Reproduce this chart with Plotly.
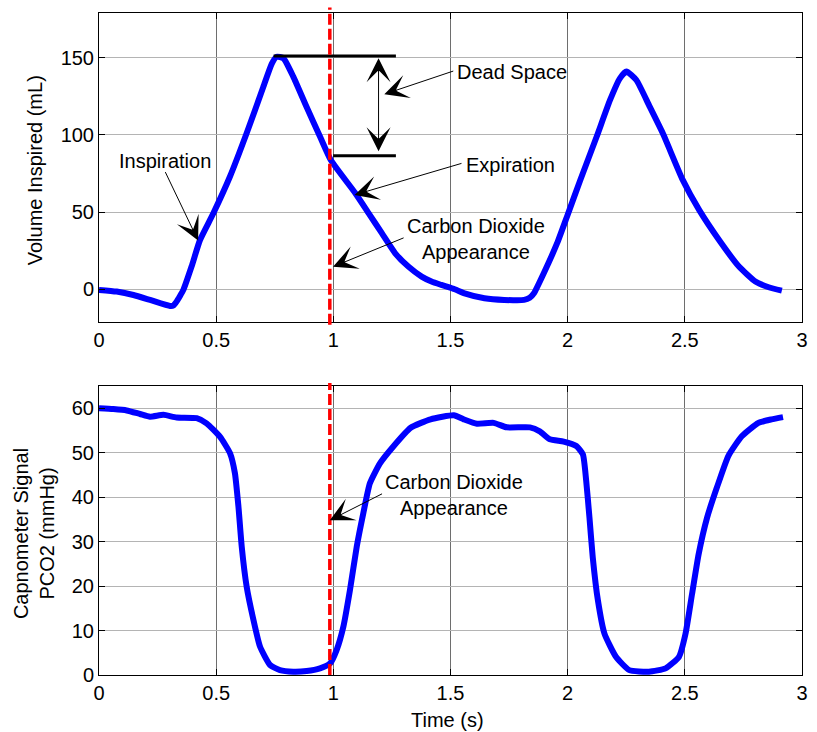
import plotly.graph_objects as go

# Volume inspired (mL) versus time (s)
vol_t = [0.0, 0.075, 0.147, 0.218, 0.303, 0.318, 0.331, 0.345, 0.36, 0.395, 0.431, 0.488, 0.559,
         0.63, 0.701, 0.737, 0.758, 0.787, 0.829, 0.886, 0.943, 0.989, 1.094, 1.151, 1.207,
         1.264, 1.32, 1.377, 1.419, 1.461, 1.518, 1.56, 1.645, 1.729, 1.814, 1.838, 1.856,
         1.898, 1.955, 1.997, 2.054, 2.124, 2.181, 2.223, 2.251, 2.293, 2.35, 2.406,
         2.491, 2.561, 2.646, 2.731, 2.801, 2.858, 2.914]
vol_ml = [-0.4, -1.5, -3.7, -6.9, -10.8, -10.5, -8.0, -4.5, -0.4, 14.7, 31.9, 49.2, 73.0,
          101.0, 131.0, 146.0, 150.6, 149.6, 137.7, 118.0, 98.9, 83.7, 62.2, 49.2, 36.3,
          23.3, 14.7, 8.2, 5.0, 2.8, 0.0, -2.6, -5.8, -6.9, -6.9, -5.5, -2.6,
          10.4, 29.8, 47.0, 70.8, 98.9, 122.6, 136.6, 141.0, 135.5, 118.3, 101.0,
          70.8, 51.4, 31.9, 14.7, 5.0, 1.3, -0.9]

# Capnometer PCO2 (mmHg) versus time (s)
co2_t = [0.0, 0.061, 0.118, 0.175, 0.218, 0.275, 0.331, 0.417, 0.459, 0.516, 0.559,
         0.58, 0.595, 0.609, 0.63, 0.659, 0.687, 0.73, 0.772, 0.829, 0.886, 0.943,
         0.986, 1.014, 1.043, 1.071, 1.1, 1.128, 1.156, 1.199, 1.256, 1.33, 1.415,
         1.514, 1.556, 1.613, 1.684, 1.74, 1.839, 1.881, 1.924, 1.983, 2.037, 2.065,
         2.079, 2.093, 2.107, 2.129, 2.157, 2.206, 2.263, 2.347, 2.418, 2.475, 2.503,
         2.531, 2.559, 2.595, 2.637, 2.686, 2.743, 2.814, 2.87, 2.919]
co2_mmhg = [60.0, 59.8, 59.5, 58.7, 58.1, 58.5, 57.9, 57.75, 56.6, 53.6, 49.9,
            45.4, 37.9, 28.9, 19.9, 12.4, 6.4, 2.25, 1.1, 0.75, 0.9, 1.5,
            2.6, 5.6, 10.9, 19.1, 28.9, 36.4, 43.1, 47.6, 51.4, 55.6, 57.5,
            58.4, 57.5, 56.5, 56.7, 55.7, 55.7, 54.8, 53.0, 52.5, 51.5, 49.6,
            43.7, 35.4, 26.5, 16.8, 9.3, 4.1, 1.1, 0.75, 1.5, 4.1, 9.3,
            18.3, 27.2, 35.4, 42.2, 49.3, 53.7, 56.7, 57.5, 58.0]

# Moment of CO2 appearance (s)
co2_onset = 0.985

# Dead-space bracket: peak level and level at CO2 appearance
dead_top_x = [0.745, 1.267]
dead_top_y = [151.0, 151.0]
dead_bot_x = [0.999, 1.267]
dead_bot_y = [86.5, 86.5]
dead_arrow_x = 1.193
dead_arrow_tips = [149.6, 89.1]

x_ticks = [0, 0.5, 1, 1.5, 2, 2.5, 3]
x_ticktext = ["0", "0.5", "1", "1.5", "2", "2.5", "3"]
vol_ticks = [0, 50, 100, 150]
co2_ticks = [0, 10, 20, 30, 40, 50, 60]

FONT = "Liberation Sans, Arial, sans-serif"
BLUE = "rgb(0,0,255)"

fig = go.Figure()

fig.add_trace(go.Scatter(x=vol_t, y=vol_ml, mode="lines",
                         line=dict(color=BLUE, width=6, shape="spline", smoothing=0.5),
                         xaxis="x", yaxis="y", showlegend=False, hoverinfo="skip"))
fig.add_trace(go.Scatter(x=dead_top_x, y=dead_top_y, mode="lines",
                         line=dict(color="black", width=3), xaxis="x", yaxis="y",
                         showlegend=False, hoverinfo="skip"))
fig.add_trace(go.Scatter(x=dead_bot_x, y=dead_bot_y, mode="lines",
                         line=dict(color="black", width=3), xaxis="x", yaxis="y",
                         showlegend=False, hoverinfo="skip"))
fig.add_trace(go.Scatter(x=co2_t, y=co2_mmhg, mode="lines",
                         line=dict(color=BLUE, width=6, shape="spline", smoothing=0.5),
                         xaxis="x2", yaxis="y2", showlegend=False, hoverinfo="skip"))

# dashed red marker for CO2 appearance in both panels
for xr, yr, y0, y1 in [("x", "y domain", -0.01, 1.018), ("x2", "y2 domain", 0.0, 1.01)]:
    fig.add_shape(type="line", xref=xr, yref=yr, x0=co2_onset, x1=co2_onset,
                  y0=y0, y1=y1, line=dict(color="rgb(255,0,0)", width=3.5,
                                          dash="11px,4px"), layer="above")

axis_common = dict(showline=True, linecolor="black", linewidth=1, mirror="ticks",
                   ticks="inside", ticklen=6, tickwidth=1, tickcolor="black",
                   showgrid=True, gridwidth=1, zeroline=False,
                   tickfont=dict(family=FONT, size=20, color="black"))

fig.update_layout(
    width=817, height=732, autosize=False,
    margin=dict(l=99, r=9, t=13, b=57),
    plot_bgcolor="white", paper_bgcolor="white",
    font=dict(family=FONT, size=20, color="black"),
    xaxis=dict(domain=[0, 1], range=[0, 3], anchor="y", tickvals=x_ticks,
               ticktext=x_ticktext, gridcolor="rgb(110,110,110)", **axis_common),
    yaxis=dict(domain=[0.5337, 1], range=[-21.0, 178.9], anchor="x",
               tickvals=vol_ticks, gridcolor="rgb(180,180,180)", **axis_common),
    xaxis2=dict(domain=[0, 1], range=[0, 3], anchor="y2", tickvals=x_ticks,
                ticktext=x_ticktext, gridcolor="rgb(110,110,110)", **axis_common),
    yaxis2=dict(domain=[0, 0.4366], range=[0, 65], anchor="x2",
                tickvals=co2_ticks, gridcolor="rgb(180,180,180)", **axis_common),
)

ann = []
txt = dict(family=FONT, size=20, color="black")

# axis titles
ann.append(dict(text="Volume Inspired (mL)", xref="paper", yref="paper",
                x=-0.0907, y=0.7628, textangle=-90, showarrow=False,
                xanchor="center", yanchor="middle", font=txt))
ann.append(dict(text="Capnometer Signal<br>PCO2 (mmHg)", xref="paper", yref="paper",
                x=-0.0931, y=0.2137, textangle=-90, showarrow=False,
                xanchor="center", yanchor="middle", font=txt))
ann.append(dict(text="Time (s)", xref="paper", yref="paper", x=0.496, y=-0.068,
                showarrow=False, xanchor="center", yanchor="middle", font=txt))

# text labels
ann.append(dict(text="Inspiration", xref="x", yref="y", x=0.28, y=83.3,
                showarrow=False, xanchor="center", yanchor="middle", font=txt))
ann.append(dict(text="Dead Space", xref="x", yref="y", x=1.519, y=140.6,
                showarrow=False, xanchor="left", yanchor="middle", font=txt))
ann.append(dict(text="Expiration", xref="x", yref="y", x=1.556, y=80.5,
                showarrow=False, xanchor="left", yanchor="middle", font=txt))
ann.append(dict(text="Carbon Dioxide<br>Appearance", xref="x", yref="y", x=1.607, y=32.6,
                showarrow=False, xanchor="center", yanchor="middle", font=txt))
ann.append(dict(text="Carbon Dioxide<br>Appearance", xref="x2", yref="y2", x=1.514, y=40.4,
                showarrow=False, xanchor="center", yanchor="middle", font=txt))

# single-headed arrows (tip at x/y, tail at ax/ay)
arrows = [
    ("x", "y", 0.423, 31.5, 0.282, 76.2),
    ("x", "y", 1.2175, 126.3, 1.514, 141.4),
    ("x", "y", 1.0905, 61.1, 1.549, 81.6),
    ("x", "y", 0.9987, 14.6, 1.302, 33.4),
    ("x2", "y2", 0.985, 34.8, 1.21, 40.8),
]
for xr, yr, x, y, ax, ay in arrows:
    ann.append(dict(text="", xref=xr, yref=yr, x=x, y=y, ax=ax, ay=ay,
                    axref=xr, ayref=yr, showarrow=True, arrowhead=3,
                    arrowsize=4, arrowwidth=1, arrowcolor="black", standoff=0,
                    borderpad=0, font=dict(size=1)))

# double-headed dead-space arrow
ann.append(dict(text="", xref="x", yref="y", x=dead_arrow_x, y=dead_arrow_tips[0],
                ax=dead_arrow_x, ay=dead_arrow_tips[1], axref="x", ayref="y",
                showarrow=True, arrowside="end+start", arrowhead=3, startarrowhead=3,
                arrowsize=4, startarrowsize=4, arrowwidth=1, arrowcolor="black",
                standoff=0, startstandoff=0, borderpad=0, font=dict(size=1)))

fig.update_layout(annotations=ann)

fig.write_html("out.html")
